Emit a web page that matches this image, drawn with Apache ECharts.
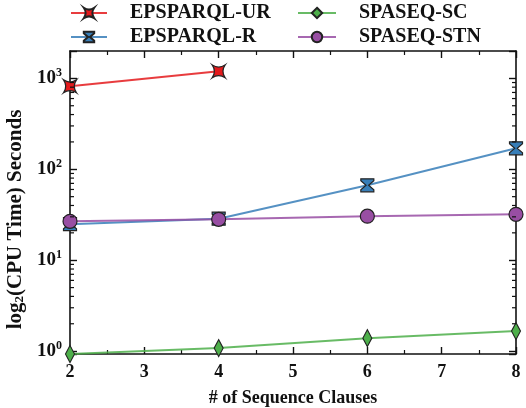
<!DOCTYPE html>
<html>
<head>
<meta charset="utf-8">
<script src="https://cdn.jsdelivr.net/npm/echarts@6/dist/echarts.min.js"></script>
<style>html,body{margin:0;padding:0;background:#fff}#c{width:526px;height:408px}</style>
</head>
<body>
<div id="c"></div>
<script>
const clauses = [2, 4, 6, 8];
const epsparqlUR = [817, 1194];
const epsparqlR = [24.9, 28.6, 66.7, 170];
const spaseqSC = [0.93, 1.08, 1.39, 1.66];
const spaseqSTN = [26.8, 28.2, 30.5, 32];
const yMinorTicks = [2,3,4,5,6,7,8,9,20,30,40,50,60,70,80,90,200,300,400,500,600,700,800,900];
const seriesNames = ['EPSPARQL-UR', 'EPSPARQL-R', 'SPASEQ-SC', 'SPASEQ-STN'];

const FONT = 'Liberation Serif';
const colors = ['#e41a1c', '#377eb8', '#4daf4a', '#984ea3'];
const star4 = 'path://M0,0 Q5,3.5 10,0 Q6.5,5 10,10 Q5,6.5 0,10 Q3.5,5 0,0 Z';
const hourglass = 'path://M0,0 L10,0 L10,1.5 L6,5 L10,8.5 L10,10 L0,10 L0,8.5 L4,5 L0,1.5 Z';

function pairs(xs, ys) { return ys.map((v, i) => [xs[i], v]); }

const chart = echarts.init(document.getElementById('c'));
const baseLine = {
  type: 'line',
  lineStyle: { width: 2, opacity: 0.85 },
  itemStyle: { borderColor: '#222', borderWidth: 1.2 },
  clip: false,
  z: 3
};
const AX = '#111';
const majorTick = { show: true, inside: true, length: 7, lineStyle: { color: AX, width: 1.4 } };
const minorTickX = { show: true, splitNumber: 2, length: 4, lineStyle: { color: AX, width: 1.2 } };
const axisLine = { show: true, onZero: false, lineStyle: { color: AX, width: 1.6 } };
const legendText = { fontFamily: FONT, fontWeight: 'bold', fontSize: 20, color: '#111', padding: [0,0,0,18] };
chart.setOption({
  animation: false,
  backgroundColor: '#fff',
  textStyle: { fontFamily: FONT },
  grid: { left: 70, right: 10, top: 51, bottom: 54, containLabel: false, outerBoundsMode: 'none' },
  legend: [
    {
      orient: 'vertical', left: 70, top: 3, padding: 0, itemWidth: 36, itemHeight: 13, itemGap: 4,
      data: [seriesNames[0], seriesNames[1]], textStyle: legendText
    },
    {
      orient: 'vertical', left: 297, top: 3, padding: 0, itemWidth: 38, itemHeight: 13, itemGap: 4,
      data: [seriesNames[2], seriesNames[3]], textStyle: legendText
    }
  ],
  xAxis: [
    {
      type: 'value', min: 2, max: 8, interval: 1, position: 'bottom',
      name: '# of Sequence Clauses', nameLocation: 'middle', nameGap: 35,
      nameTextStyle: { fontFamily: FONT, fontWeight: 'bold', fontSize: 18, color: '#111' },
      axisLine: axisLine, axisTick: majorTick, minorTick: minorTickX,
      axisLabel: { fontFamily: FONT, fontWeight: 'bold', fontSize: 18, color: '#111', margin: 9 },
      splitLine: { show: false }
    },
    {
      type: 'value', min: 2, max: 8, interval: 1, position: 'top',
      axisLine: axisLine, axisTick: majorTick, minorTick: minorTickX,
      axisLabel: { show: false },
      splitLine: { show: false }
    }
  ],
  yAxis: [
    {
      type: 'log', logBase: 10, min: 0.93, max: 2000, position: 'left',
      name: 'log{sub|2}(CPU Time) Seconds', nameLocation: 'middle', nameGap: 40,
      nameTextStyle: {
        fontFamily: FONT, fontWeight: 'bold', fontSize: 21, color: '#111', padding: [0, 34, 0, 0],
        rich: { sub: { fontFamily: FONT, fontWeight: 'bold', fontSize: 13, color: '#111', padding: [9,0,0,0] } }
      },
      axisLine: axisLine, axisTick: majorTick,
      axisLabel: {
        margin: 8, fontFamily: FONT, fontWeight: 'bold', fontSize: 19, color: '#111',
        formatter: function (v) {
          const e = Math.round(Math.log10(v));
          if (Math.abs(Math.log10(v) - e) > 1e-6) return '';
          return '10{sup|' + e + '}';
        },
        rich: { sup: { fontFamily: FONT, fontWeight: 'bold', fontSize: 12, color: '#111', padding: [0,0,10,0] } },
        showMinLabel: true, showMaxLabel: true
      },
      splitLine: { show: false }
    },
    {
      type: 'log', logBase: 10, min: 0.93, max: 2000, position: 'right',
      axisLine: axisLine, axisTick: majorTick,
      axisLabel: { show: false },
      splitLine: { show: false }
    }
  ],
  series: [
    Object.assign({}, baseLine, {
      name: seriesNames[0], data: pairs(clauses, epsparqlUR), color: colors[0],
      symbol: star4, symbolSize: 13
    }),
    Object.assign({}, baseLine, {
      name: seriesNames[1], data: pairs(clauses, epsparqlR), color: colors[1],
      symbol: hourglass, symbolSize: 13
    }),
    Object.assign({}, baseLine, {
      name: seriesNames[2], data: pairs(clauses, spaseqSC), color: colors[2],
      symbol: 'diamond', symbolSize: [9, 17]
    }),
    Object.assign({}, baseLine, {
      name: seriesNames[3], data: pairs(clauses, spaseqSTN), color: colors[3],
      symbol: 'circle', symbolSize: 14
    }),
    {
      type: 'custom', name: 'yMinorTicks', silent: true, z: 10, clip: false,
      xAxisIndex: 0, yAxisIndex: 0,
      dimensions: ['x', 'y'],
      encode: { x: 'x', y: 'y' },
      data: yMinorTicks.map(v => [clauses[0], v]),
      renderItem: function (params, api) {
        const p = api.coord([api.value(0), api.value(1)]);
        const cs = params.coordSys;
        return {
          type: 'group',
          children: [
            { type: 'rect', shape: { x: cs.x, y: p[1] - 0.6, width: 4, height: 1.2 }, style: { fill: AX } },
            { type: 'rect', shape: { x: cs.x + cs.width - 4, y: p[1] - 0.6, width: 4, height: 1.2 }, style: { fill: AX } }
          ]
        };
      }
    }
  ]
});
</script>
</body>
</html>
